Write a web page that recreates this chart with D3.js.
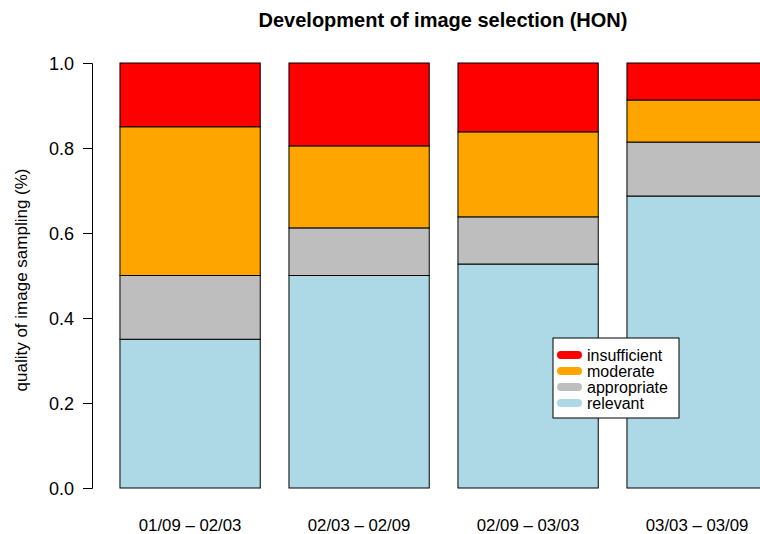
<!DOCTYPE html>
<html>
<head>
<meta charset="utf-8">
<title>Development of image selection</title>
<script src="https://d3js.org/d3.v7.min.js"></script>
<style>
  body { margin: 0; background: #fff; }
  svg text { font-family: "Liberation Sans", Arial, sans-serif; fill: #000; }
</style>
</head>
<body>
<script>

var periods = ["01/09 \u2013 02/03", "02/03 \u2013 02/09", "02/09 \u2013 03/03", "03/03 \u2013 03/09"];
var relevant     = [0.35, 0.50, 0.527, 0.687];
var appropriate  = [0.15, 0.112, 0.111, 0.127];
var moderate     = [0.35, 0.193, 0.200, 0.099];
var insufficient = [0.15, 0.195, 0.162, 0.087];
var seriesNames = ["relevant", "appropriate", "moderate", "insufficient"];
var seriesColors = ["lightblue", "#bebebe", "orange", "red"];
var yTicks = [0, 0.2, 0.4, 0.6, 0.8, 1.0];

var width = 760, height = 534;

var rows = periods.map(function(p, i) {
  return { period: p, relevant: relevant[i], appropriate: appropriate[i],
           moderate: moderate[i], insufficient: insufficient[i] };
});

var x = d3.scaleBand()
    .domain(periods)
    .range([105.6, 781.6])
    .paddingInner(0.17)
    .paddingOuter(0.085);

var y = d3.scaleLinear()
    .domain([0, 1])
    .range([488, 63]);

var color = d3.scaleOrdinal().domain(seriesNames).range(seriesColors);

var svg = d3.select("body").append("svg")
    .attr("width", width)
    .attr("height", height);

var stacked = d3.stack().keys(seriesNames)(rows);

svg.append("g").selectAll("g")
    .data(stacked)
  .enter().append("g")
    .attr("fill", function(d) { return color(d.key); })
  .selectAll("rect")
    .data(function(d) { return d; })
  .enter().append("rect")
    .attr("x", function(d) { return x(d.data.period); })
    .attr("width", x.bandwidth())
    .attr("y", function(d) { return y(d[1]); })
    .attr("height", function(d) { return y(d[0]) - y(d[1]); })
    .attr("stroke", "#000")
    .attr("stroke-width", 1);

// y axis
var yAxis = svg.append("g")
    .attr("transform", "translate(92,0)")
    .call(d3.axisLeft(y).tickValues(yTicks).tickFormat(d3.format(".1f")).tickSize(9).tickPadding(9));
yAxis.select(".domain").attr("stroke", "#000");
yAxis.selectAll(".tick line").attr("stroke", "#000");
yAxis.selectAll("text")
    .style("font-size", "18px")
    .attr("dy", "0.35em");

svg.append("text")
    .attr("transform", "translate(27,280) rotate(-90)")
    .attr("text-anchor", "middle")
    .style("font-size", "17px")
    .text("quality of image sampling (%)");

// x labels
svg.append("g").selectAll("text")
    .data(periods)
  .enter().append("text")
    .attr("x", function(d) { return x(d) + x.bandwidth() / 2; })
    .attr("y", 531)
    .attr("text-anchor", "middle")
    .style("font-size", "16.8px")
    .text(function(d) { return d; });

// title
svg.append("text")
    .attr("x", 443)
    .attr("y", 27)
    .attr("text-anchor", "middle")
    .style("font-size", "20px")
    .style("font-weight", "bold")
    .text("Development of image selection (HON)");

// legend
var legend = svg.append("g").attr("transform", "translate(553,338)");
legend.append("rect")
    .attr("width", 126)
    .attr("height", 80)
    .attr("fill", "#fff")
    .attr("stroke", "#000");

var legendItems = seriesNames.slice().reverse();
var item = legend.selectAll(".item")
    .data(legendItems)
  .enter().append("g")
    .attr("class", "item")
    .attr("transform", function(d, i) { return "translate(0," + (17 + i * 16) + ")"; });

item.append("line")
    .attr("x1", 8).attr("x2", 25)
    .attr("stroke", function(d) { return color(d); })
    .attr("stroke-width", 8)
    .attr("stroke-linecap", "round");

item.append("text")
    .attr("x", 34)
    .attr("dy", "0.35em")
    .style("font-size", "16px")
    .text(function(d) { return d; });

</script>
</body>
</html>
